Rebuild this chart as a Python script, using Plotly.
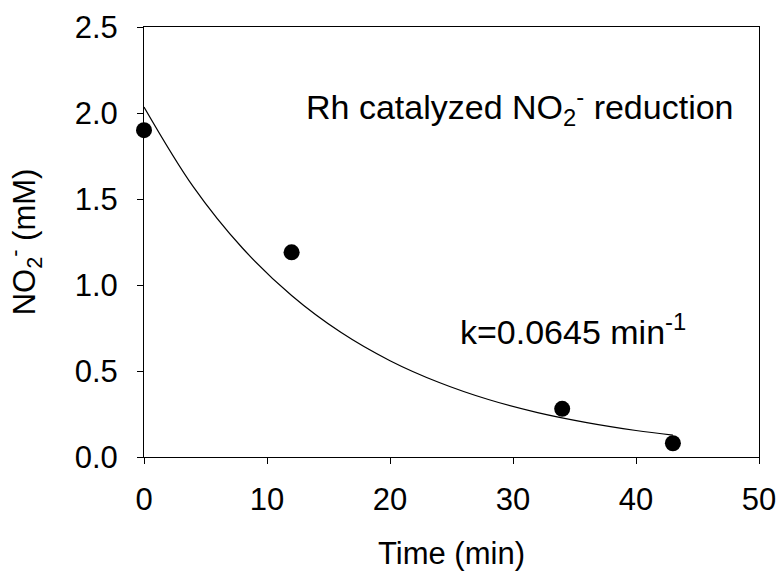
import plotly.graph_objects as go

# Measured data points
time_min = [0, 12, 34, 43]
no2_mM = [1.90, 1.19, 0.28, 0.08]

# Fitted exponential decay curve
fit_time = [0, 4, 8, 12, 16, 20, 24, 28, 32, 36, 40, 43]
fit_no2 = [2.035, 1.572, 1.215, 0.939, 0.725, 0.560, 0.433, 0.334, 0.258, 0.200, 0.154, 0.127]

x_ticks = [0, 10, 20, 30, 40, 50]
y_ticks = [0.0, 0.5, 1.0, 1.5, 2.0, 2.5]
y_tick_text = ["0.0", "0.5", "1.0", "1.5", "2.0", "2.5"]

FONT = "Arial, Liberation Sans, Helvetica, sans-serif"

fig = go.Figure()
fig.add_trace(go.Scatter(x=fit_time, y=fit_no2, mode="lines",
                         line=dict(color="black", width=1.2, shape="spline"),
                         showlegend=False, cliponaxis=False))
fig.add_trace(go.Scatter(x=time_min, y=no2_mM, mode="markers",
                         marker=dict(color="black", size=16),
                         showlegend=False, cliponaxis=False))

fig.add_annotation(x=13.0, y=2.036, xref="x", yref="y", xanchor="left", yanchor="middle",
                   text="Rh catalyzed NO<sub>2</sub><sup>-</sup> reduction", showarrow=False,
                   font=dict(family=FONT, size=34, color="black"))
fig.add_annotation(x=25.5, y=0.74, xref="x", yref="y", xanchor="left", yanchor="middle",
                   text="k=0.0645 min<sup>-1</sup>", showarrow=False,
                   font=dict(family=FONT, size=34, color="black"))

axis_common = dict(showline=True, linecolor="black", linewidth=1, mirror=True,
                   ticks="outside", ticklen=6, tickwidth=1, tickcolor="black",
                   showgrid=False, zeroline=False,
                   tickfont=dict(family=FONT, size=31, color="black"))

fig.update_xaxes(range=[0, 50], tickvals=x_ticks, ticklabelstandoff=9, ticklabeloverflow="allow",
                 title=dict(text="Time (min)", font=dict(family=FONT, size=31, color="black"), standoff=38),
                 **axis_common)
fig.update_yaxes(range=[0, 2.5], tickvals=y_ticks, ticktext=y_tick_text, ticklabelstandoff=13,
                 title=dict(text="NO<sub>2</sub><sup>-</sup> (mM)", font=dict(family=FONT, size=31, color="black"), standoff=29),
                 **axis_common)

fig.update_layout(width=781, height=571, margin=dict(l=144, r=22, t=27, b=114, autoexpand=False),
                  plot_bgcolor="white", paper_bgcolor="white", font=dict(family=FONT, color="black"))

fig.write_html("out.html", config={"displayModeBar": False},
               post_script="document.body.style.margin='0';")
